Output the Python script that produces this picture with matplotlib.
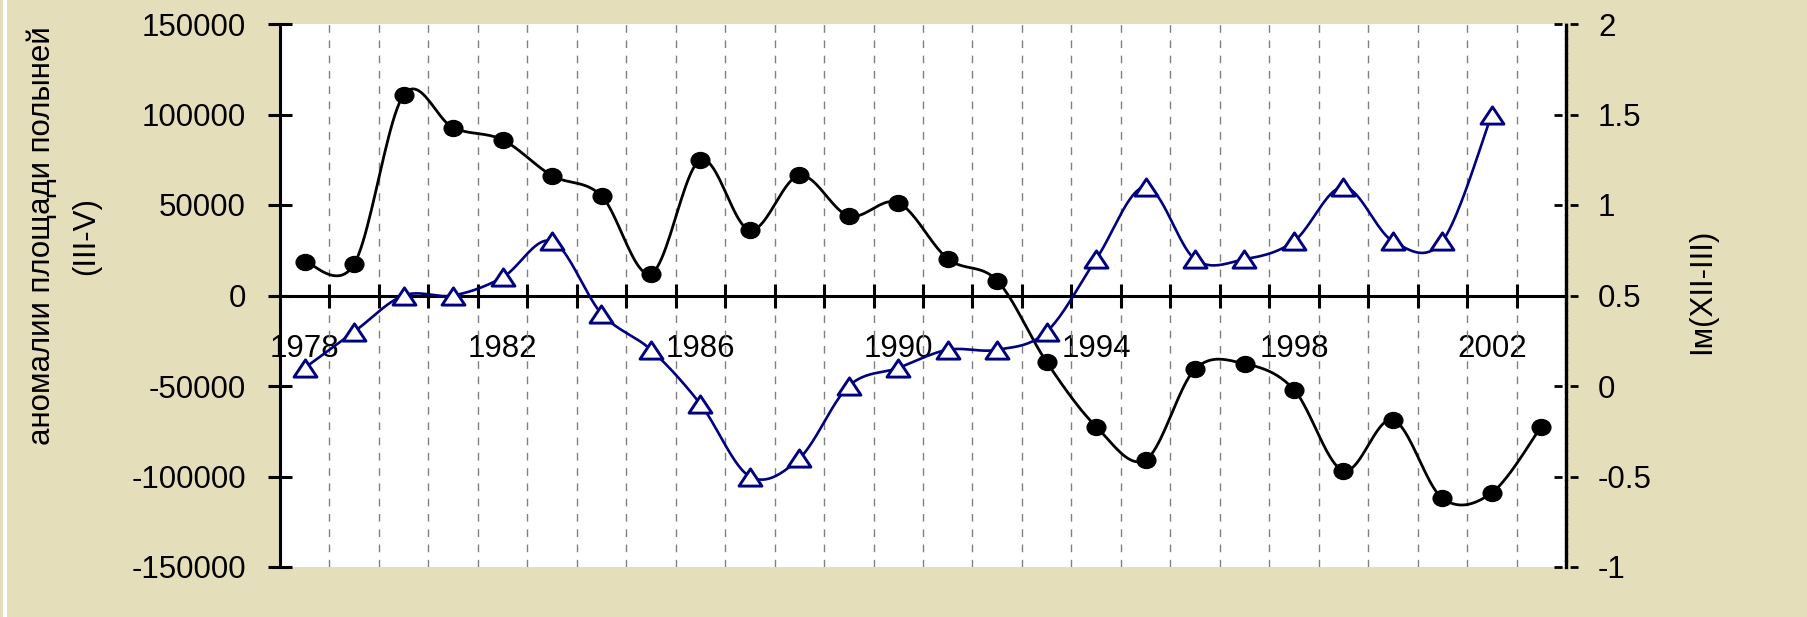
import numpy as np
import matplotlib.pyplot as plt
import matplotlib.transforms as mtransforms
from matplotlib.path import Path
from matplotlib.lines import Line2D

plt.rcParams['font.family'] = ['Liberation Sans', 'DejaVu Sans']
plt.rcParams['axes.unicode_minus'] = False
plt.rcParams['lines.scale_dashes'] = False

# data
years = list(range(1978, 2004))
polynya_anom = [18700, 17400, 110800, 92700, 86000, 66200, 55000, 12100, 74900, 36100,
                66300, 44000, 51200, 20300, 8200, -36800, -72400, -90800, -40700, -37700,
                -52000, -96800, -68700, -112000, -109000, -72400]
im_index = [0.1, 0.3, 0.5, 0.5, 0.6, 0.8, 0.4, 0.2, -0.1, -0.5, -0.4, 0.0, 0.1,
            0.2, 0.2, 0.3, 0.7, 1.1, 0.7, 0.7, 0.8, 1.1, 0.8, 0.8, 1.5]
label_years = [1978, 1982, 1986, 1990, 1994, 1998, 2002]
left_ticks = [-150000, -100000, -50000, 0, 50000, 100000, 150000]
right_ticks = [-1, -0.5, 0, 0.5, 1, 1.5, 2]
right_ticklabels = ['-1', '-0.5', '0', '0.5', '1', '1.5', '2']

FS = 22.5
W, H = 1807, 617


def smooth_xy(x, y, steps=24):
    # excel-like smoothed line (catmull-rom as cubic bezier)
    p = np.column_stack([x, y]).astype(float)
    p = np.vstack([p[:1], p, p[-1:]])
    t = np.linspace(0, 1, steps)[:-1, None]
    out = []
    for i in range(1, len(p) - 2):
        p0, p3 = p[i], p[i + 1]
        c1 = p0 + (p[i + 1] - p[i - 1]) / 6
        c2 = p3 - (p[i + 2] - p[i]) / 6
        seg = (1 - t) ** 3 * p0 + 3 * (1 - t) ** 2 * t * c1 + 3 * (1 - t) * t ** 2 * c2 + t ** 3 * p3
        out.append(seg)
    out.append(p[-2:-1])
    pts = np.vstack(out)
    return pts[:, 0], pts[:, 1]


circ = Path.unit_circle()
ellipse = Path(circ.vertices * [1.0, 0.85], circ.codes)
tri = Path([(0, 0.75), (-1, -0.75), (1, -0.75), (0, 0.75)],
           [Path.MOVETO, Path.LINETO, Path.LINETO, Path.CLOSEPOLY])

fig = plt.figure(figsize=(W / 100, H / 100), dpi=100, facecolor='#E4DEBB')
ax = fig.add_axes([280 / W, 1 - 567 / H, (1566 - 280) / W, (567 - 24) / H])
ax.set_facecolor('white')

x = np.arange(len(years))
ax.set_xlim(-0.5, len(years) - 0.5)
ax.set_ylim(-150000, 150000)

for s in ['top', 'right']:
    ax.spines[s].set_visible(False)
ax.spines['left'].set_linewidth(2.2)
ax.spines['bottom'].set_position(('data', 0))
ax.spines['bottom'].set_linewidth(2.2)

ax.set_xticks([years.index(y) for y in label_years])
ax.set_xticklabels([str(y) for y in label_years])
ax.set_xticks(x[:-1] + 0.5, minor=True)
ax.tick_params(axis='x', which='major', length=0, pad=28, labelsize=FS)
ax.tick_params(axis='x', which='minor', direction='inout', length=17, width=2.2)
ax.grid(True, axis='x', which='minor', color='#808080', lw=1.0, linestyle=(0, (5.5, 5.5)))

ax.set_yticks(left_ticks)
ax.set_yticklabels([str(v) for v in left_ticks])
ax.tick_params(axis='y', direction='inout', length=17, width=2.2, pad=16, labelsize=FS)

sx, sy = smooth_xy(x, polynya_anom)
ax.plot(sx, sy, color='black', lw=2.0)
ax.plot(x, polynya_anom, linestyle='none', marker=ellipse, ms=13.5, color='black')

# right axis
ax2 = ax.twinx()
ax2.set_ylim(-1, 2)
for s in ['top', 'left', 'bottom']:
    ax2.spines[s].set_visible(False)
ax2.spines['right'].set_linewidth(2.4)
ax2.spines['right'].set_linestyle((0, (3.5, 1.8)))
ax2.set_yticks(right_ticks)
ax2.set_yticklabels(right_ticklabels)
ax2.tick_params(axis='y', length=0, pad=23, labelsize=FS)

trans = mtransforms.blended_transform_factory(ax2.transAxes, ax2.transData)
d = 12 / (1566 - 280)
for v in right_ticks:
    ax2.plot([1 - d, 1 + d], [v, v], transform=trans, color='black', lw=2.0,
             linestyle=(0, (5.8, 5.8)), clip_on=False)

bx = np.arange(len(im_index))
sx2, sy2 = smooth_xy(bx, im_index)
ax2.plot(sx2, sy2, color='#000080', lw=1.9)
ax2.plot(bx, im_index, linestyle='none', marker=tri, ms=16.5, mfc='white',
         mec='#000080', mew=2.1)

fig.text(64 / W, 1 - 236 / H, 'аномалии площади полыней\n(III-V)', rotation=90,
         ha='center', va='center', ma='center', fontsize=FS, linespacing=1.6)
fig.text(1702 / W, 1 - 291 / H, 'Iм(XII-III)', rotation=90, ha='center', va='center', fontsize=FS)

fig.add_artist(Line2D([5.3 / W, 5.3 / W], [0, 1], color='white', lw=3))

fig.savefig('out.png', dpi=100, facecolor=fig.get_facecolor())
